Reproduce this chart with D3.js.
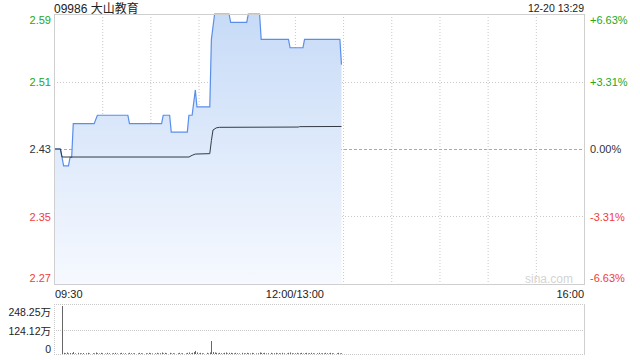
<!DOCTYPE html>
<html>
<head>
<meta charset="utf-8">
<script src="https://cdn.jsdelivr.net/npm/d3@7"></script>
<style>
  body { margin: 0; background: #fff; }
  svg { display: block; font-family: "Liberation Sans", Arial, "Noto Sans CJK SC", sans-serif; }
</style>
</head>
<body>
<div id="viz"></div>
<script>
// title / stamp
const stockName = "09986 大山教育";
const stampText = "12-20 13:29";

// price vertices (minutes after 09:30, lunch removed) and values
const priceMinutes = [0, 4, 5, 6, 9, 10, 11, 12, 25, 27, 46, 47, 67, 68, 72, 73, 83, 84, 86, 88, 89, 97, 98, 100, 109, 110, 120, 121, 128, 129, 146, 147, 155, 156, 178, 179];
const priceValues  = [2.43, 2.43, 2.42, 2.41, 2.41, 2.42, 2.42, 2.46, 2.46, 2.47, 2.47, 2.46, 2.46, 2.47, 2.47, 2.45, 2.45, 2.47, 2.47, 2.50, 2.48, 2.48, 2.56, 2.59, 2.59, 2.58, 2.58, 2.59, 2.59, 2.56, 2.56, 2.55, 2.55, 2.56, 2.56, 2.53];

// average price vertices
const avgMinutes = [0, 4, 5, 84, 86, 88, 97, 98, 99, 101, 103, 152, 153, 179];
const avgValues  = [2.43, 2.43, 2.4205, 2.4205, 2.4225, 2.424, 2.4245, 2.44, 2.4525, 2.455, 2.4557, 2.456, 2.4565, 2.4567];

// volume per minute, in 万 shares (index = minute)
const volumes = [
  0, 0, 0, 0, 0, 248.25, 6, 4, 8, 3,
  5, 4, 10, 3, 0, 6, 4, 3, 5, 0,
  4, 6, 3, 0, 4, 3, 8, 4, 3, 6,
  4, 0, 3, 6, 4, 0, 3, 4, 6, 3,
  0, 4, 6, 3, 4, 0, 3, 6, 4, 3,
  4, 0, 3, 6, 4, 3, 0, 4, 3, 6,
  4, 3, 0, 4, 6, 3, 4, 8, 3, 6,
  4, 0, 6, 3, 4, 3, 0, 4, 6, 3,
  4, 0, 3, 6, 8, 3, 6, 10, 16, 8,
  3, 6, 4, 3, 0, 6, 3, 8, 67, 10,
  8, 6, 3, 6, 4, 3, 6, 8, 3, 6,
  6, 4, 3, 6, 4, 3, 0, 6, 4, 3,
  6, 4, 3, 6, 4, 0, 3, 4, 8, 6,
  4, 6, 3, 4, 0, 6, 3, 4, 6, 3,
  4, 3, 6, 4, 0, 3, 6, 8, 4, 3,
  4, 6, 3, 4, 6, 3, 4, 6, 3, 4,
  6, 4, 3, 0, 4, 6, 3, 4, 3, 6,
  4, 3, 6, 4, 3, 0, 4, 6, 3, 4
];

// axis labels
const priceTicks = [2.59, 2.51, 2.43, 2.35, 2.27];
const pctLabels = ["+6.63%", "+3.31%", "0.00%", "-3.31%", "-6.63%"];
const timeLabels = ["09:30", "12:00/13:00", "16:00"];
const timeLabelMinutes = [0, 150, 330];
const volTicks = [248.25, 124.12, 0];

const WIDTH = 640, HEIGHT = 360;
const COLORS = {
  up: "#22a822", down: "#f03c3c", flat: "#333",
  line: "#5a8eea", avg: "#333a44", grid: "#c8c8c8", border: "#cfcfcf", vol: "#666"
};
const PLOT = {left: 54, right: 584, top: 14, bottom: 284};
const VOL = {top: 304, maxY: 306, bottom: 354};

const svg = d3.select("#viz").append("svg")
  .attr("width", WIDTH)
  .attr("height", HEIGHT);

const x = d3.scaleLinear().domain([0, 330]).range([PLOT.left, PLOT.right]);
const y = d3.scaleLinear().domain([2.27, 2.59]).range([PLOT.bottom, PLOT.top]);
const yVol = d3.scaleLinear().domain([0, 248.25]).range([VOL.bottom, VOL.maxY]);

// gradient for price area
const grad = svg.append("defs").append("linearGradient")
  .attr("id", "priceFill")
  .attr("gradientUnits", "userSpaceOnUse")
  .attr("x1", 0).attr("x2", 0)
  .attr("y1", PLOT.top).attr("y2", PLOT.bottom);
grad.append("stop").attr("offset", 0).attr("stop-color", "#c7dbf7");
grad.append("stop").attr("offset", 1).attr("stop-color", "#f6f9ff");

// title and timestamp
svg.append("text")
  .attr("x", PLOT.left).attr("y", 12.5)
  .style("font-size", "12px").attr("fill", "#222")
  .text(stockName);
svg.append("text")
  .attr("x", PLOT.right).attr("y", 11.8)
  .attr("text-anchor", "end")
  .style("font-size", "10.5px").attr("fill", "#222")
  .text(stampText);

// vertical grid (every half hour)
const gridMinutes = d3.range(30, 330, 30);
svg.append("g").selectAll("line")
  .data(gridMinutes)
  .join("line")
  .attr("x1", d => x(d) + 0.5).attr("x2", d => x(d) + 0.5)
  .attr("y1", PLOT.top).attr("y2", PLOT.bottom)
  .attr("stroke", COLORS.grid)
  .attr("stroke-dasharray", "1,2");

// horizontal grid
svg.append("g").selectAll("line")
  .data(priceTicks.slice(1, -1))
  .join("line")
  .attr("x1", PLOT.left).attr("x2", PLOT.right)
  .attr("y1", d => Math.round(y(d)) + 0.5).attr("y2", d => Math.round(y(d)) + 0.5)
  .attr("stroke", d => d === 2.43 ? "#aaa" : COLORS.grid)
  .attr("stroke-dasharray", d => d === 2.43 ? "3,2" : "1,2");

// price area + line
const pricePts = priceMinutes.map((m, i) => [m, priceValues[i]]);
svg.append("path")
  .datum(pricePts)
  .attr("fill", "url(#priceFill)")
  .attr("d", d3.area().x(d => x(d[0])).y0(PLOT.bottom).y1(d => y(d[1])));
svg.append("path")
  .datum(pricePts)
  .attr("fill", "none")
  .attr("stroke", COLORS.line)
  .attr("stroke-width", 1.2)
  .attr("d", d3.line().x(d => x(d[0])).y(d => y(d[1])));

// average line
const avgPts = avgMinutes.map((m, i) => [m, avgValues[i]]);
svg.append("path")
  .datum(avgPts)
  .attr("fill", "none")
  .attr("stroke", COLORS.avg)
  .attr("stroke-width", 1)
  .attr("d", d3.line().x(d => x(d[0])).y(d => y(d[1])));

// plot border
svg.append("rect")
  .attr("x", PLOT.left + 0.5).attr("y", PLOT.top + 0.5)
  .attr("width", PLOT.right - PLOT.left).attr("height", PLOT.bottom - PLOT.top)
  .attr("fill", "none").attr("stroke", COLORS.border);

// watermark
svg.append("text")
  .attr("x", 573).attr("y", 283)
  .attr("text-anchor", "end")
  .style("font-size", "12px").attr("fill", "#d4d4d4")
  .text("sina.com");

// left price labels
const labelShift = i => i === 0 ? 6 : (i === priceTicks.length - 1 ? -6 : 0);
const tickColor = v => v > 2.43 ? COLORS.up : (v < 2.43 ? COLORS.down : COLORS.flat);
svg.append("g").selectAll("text")
  .data(priceTicks)
  .join("text")
  .attr("x", 51)
  .attr("y", (d, i) => y(d) + labelShift(i) + 4)
  .attr("text-anchor", "end")
  .style("font-size", "11px")
  .attr("fill", d => tickColor(d))
  .text(d => d.toFixed(2));

// right percent labels
svg.append("g").selectAll("text")
  .data(pctLabels)
  .join("text")
  .attr("x", 590)
  .attr("y", (d, i) => y(priceTicks[i]) + labelShift(i) + 4)
  .style("font-size", "11px")
  .attr("fill", (d, i) => tickColor(priceTicks[i]))
  .text(d => d);

// time labels
svg.append("g").selectAll("text")
  .data(timeLabels)
  .join("text")
  .attr("x", (d, i) => x(timeLabelMinutes[i]) + (i === 0 ? 1 : 0))
  .attr("y", 297.5)
  .attr("text-anchor", (d, i) => i === 0 ? "start" : (i === 2 ? "end" : "middle"))
  .style("font-size", "11px")
  .attr("fill", "#222")
  .text(d => d);

// volume panel grid
svg.append("g").selectAll("line")
  .data([VOL.top, yVol(124.12), VOL.bottom])
  .join("line")
  .attr("x1", PLOT.left).attr("x2", PLOT.right)
  .attr("y1", d => Math.round(d) + 0.5).attr("y2", d => Math.round(d) + 0.5)
  .attr("stroke", COLORS.grid)
  .attr("stroke-dasharray", "1,1");
svg.append("line")
  .attr("x1", PLOT.left + 0.5).attr("x2", PLOT.left + 0.5)
  .attr("y1", VOL.top).attr("y2", VOL.bottom)
  .attr("stroke", COLORS.grid).attr("stroke-dasharray", "1,1");
svg.append("line")
  .attr("x1", PLOT.right + 0.5).attr("x2", PLOT.right + 0.5)
  .attr("y1", VOL.top).attr("y2", VOL.bottom + 1)
  .attr("stroke", COLORS.border);

// volume bars
svg.append("g").selectAll("line")
  .data(volumes.map((v, i) => [i, v]))
  .join("line")
  .attr("x1", d => Math.round(x(d[0])) + 0.5).attr("x2", d => Math.round(x(d[0])) + 0.5)
  .attr("y1", VOL.bottom).attr("y2", d => yVol(d[1]))
  .attr("stroke", COLORS.vol)
  .attr("stroke-width", 1);

// volume labels
const volShift = [6, 0.7, -5];
svg.append("g").selectAll("text")
  .data(volTicks)
  .join("text")
  .attr("x", 51)
  .attr("y", (d, i) => yVol(d) + volShift[i] + 4)
  .attr("text-anchor", "end")
  .style("font-size", "10.5px")
  .attr("fill", "#222")
  .text(d => d === 0 ? "0" : d.toFixed(2) + "万");
</script>
</body>
</html>
